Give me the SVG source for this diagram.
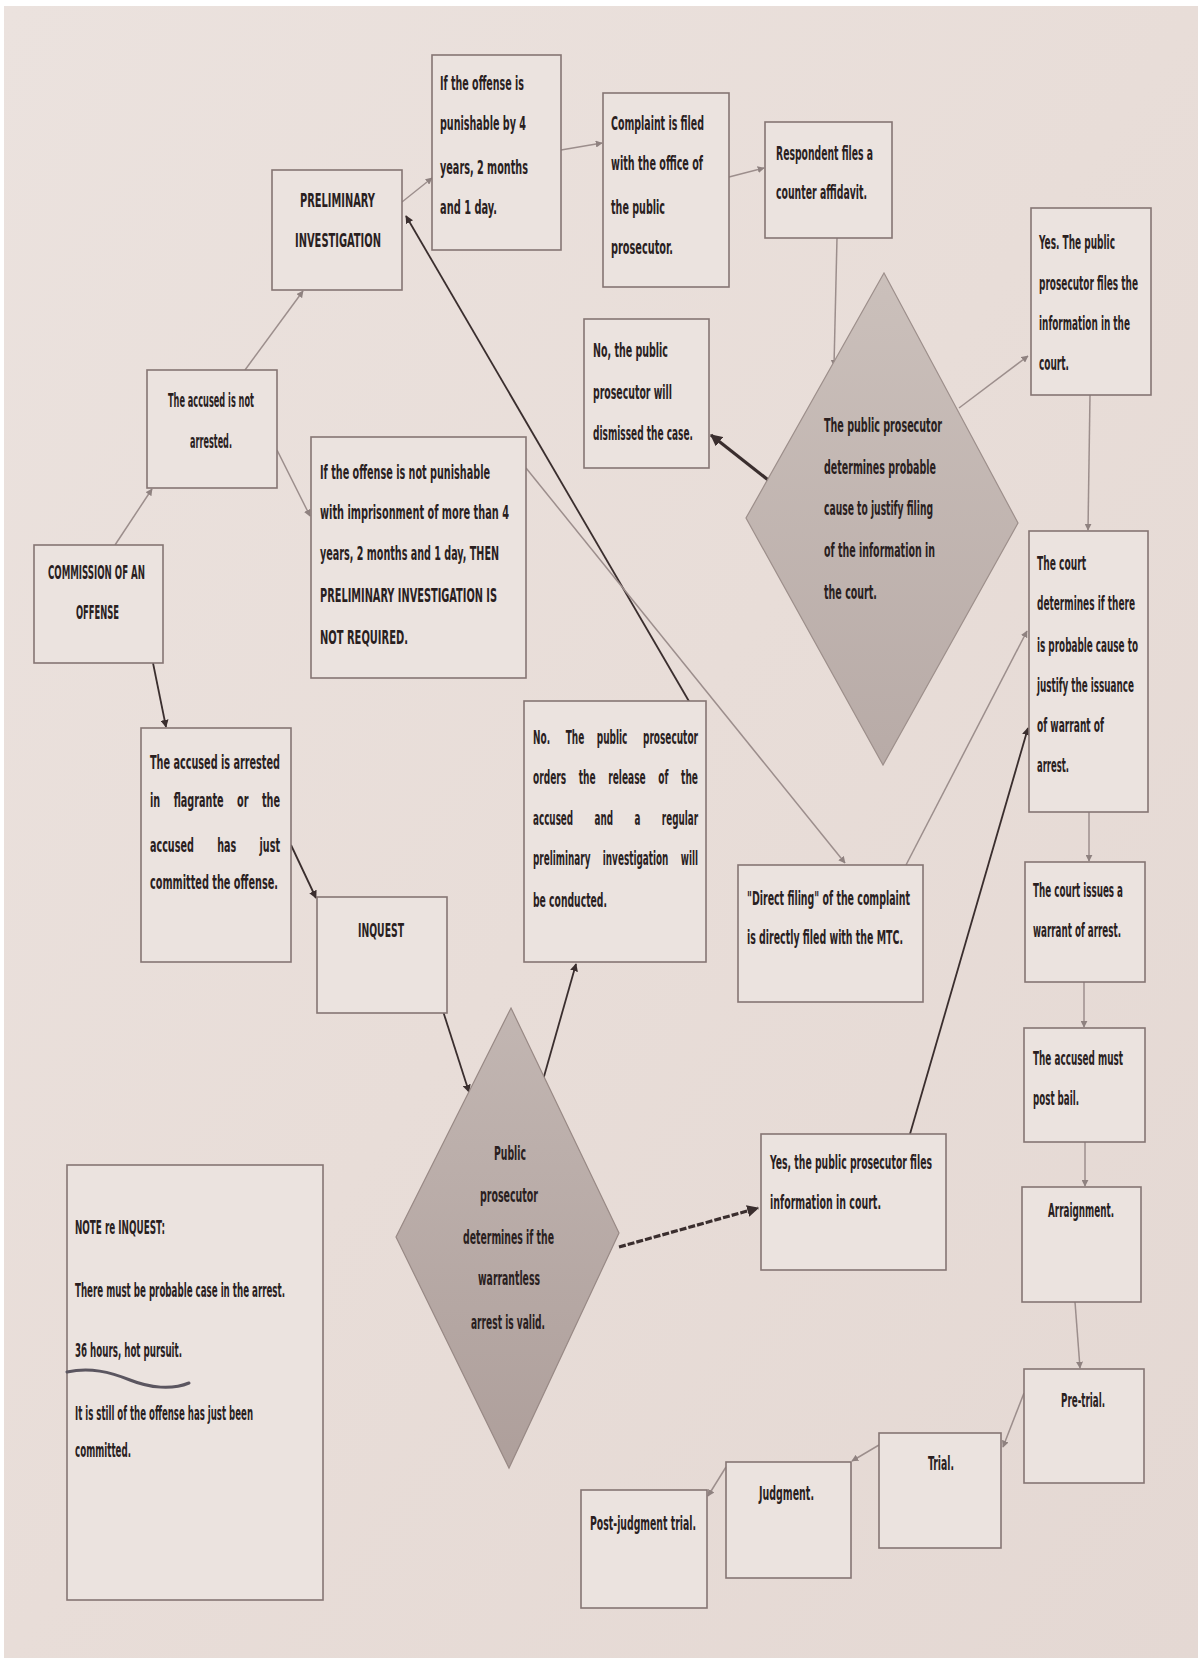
<svg xmlns="http://www.w3.org/2000/svg" width="1198" height="1661" viewBox="0 0 1198 1661">
<defs>
<linearGradient id="paper" x1="0" y1="0" x2="1" y2="1">
<stop offset="0" stop-color="#ebe2de"/>
<stop offset="0.5" stop-color="#e8ddd8"/>
<stop offset="1" stop-color="#e4d8d3"/>
</linearGradient>
<linearGradient id="dia1" x1="0" y1="0" x2="0" y2="1">
<stop offset="0" stop-color="#cbc0bb"/>
<stop offset="1" stop-color="#b8aba7"/>
</linearGradient>
<linearGradient id="dia2" x1="0" y1="0" x2="0" y2="1">
<stop offset="0" stop-color="#c2b6b2"/>
<stop offset="1" stop-color="#ae9f9b"/>
</linearGradient>
<marker id="ag" viewBox="0 0 10 10" refX="9" refY="5" markerWidth="7" markerHeight="7" markerUnits="userSpaceOnUse" orient="auto">
<path d="M0,0 L10,5 L0,10 z" fill="#8f8280"/>
</marker>
<marker id="ad" viewBox="0 0 10 10" refX="9" refY="5" markerWidth="8" markerHeight="8" markerUnits="userSpaceOnUse" orient="auto">
<path d="M0,0 L10,5 L0,10 z" fill="#3a2e2e"/>
</marker>
<marker id="adb" viewBox="0 0 10 10" refX="9" refY="5" markerWidth="12" markerHeight="12" markerUnits="userSpaceOnUse" orient="auto">
<path d="M0,0 L10,5 L0,10 z" fill="#3a2e2e"/>
</marker>
</defs>
<style>
.box{fill:#ebe3df;stroke:#857573;stroke-width:1.6}
.t{font-family:"Liberation Sans Narrow","DejaVu Sans Condensed","Liberation Sans",Arial,sans-serif;font-size:20px;font-weight:bold;fill:#2a1f1f}
.pre{white-space:pre}
.cg{fill:none;stroke:#9c8e8c;stroke-width:1.5;marker-end:url(#ag)}
.cd{fill:none;stroke:#3a2e2e;stroke-width:1.8;marker-end:url(#ad)}
.dia1{fill:url(#dia1);stroke:#9d8f8b;stroke-width:1.2}
.dia2{fill:url(#dia2);stroke:#988985;stroke-width:1.2}
</style>
<rect x="0" y="0" width="1198" height="1661" fill="#ffffff"/>
<rect x="4" y="6" width="1194" height="1652" fill="url(#paper)"/>

<g id="connectors">
<line class="cg" x1="115" y1="545" x2="152" y2="489"/>
<line class="cg" x1="245" y1="370" x2="303" y2="291"/>
<line class="cg" x1="402" y1="202" x2="432" y2="178"/>
<line class="cg" x1="561" y1="150" x2="602" y2="143"/>
<line class="cg" x1="729" y1="177" x2="764" y2="168"/>
<line class="cg" x1="837" y1="238" x2="834" y2="366"/>
<line class="cg" x1="959" y1="408" x2="1028" y2="356"/>
<line class="cd" x1="772" y1="483" x2="711" y2="435" style="stroke-width:3.2;marker-end:url(#adb)"/>
<line class="cg" x1="1090" y1="395" x2="1088" y2="530"/>
<line class="cg" x1="277" y1="450" x2="310" y2="516"/>
<line class="cd" x1="153" y1="663" x2="166" y2="727"/>
<line class="cd" x1="291" y1="845" x2="316" y2="898"/>
<line class="cd" x1="442" y1="1008" x2="469" y2="1092"/>
<line class="cd" x1="543" y1="1080" x2="576" y2="964"/>
<line class="cd" x1="690" y1="703" x2="406" y2="216"/>
<line class="cg" x1="526" y1="468" x2="845" y2="863"/>
<line class="cg" x1="906" y1="865" x2="1027" y2="631"/>
<line class="cd" x1="910" y1="1134" x2="1028" y2="728"/>
<line class="cd" x1="619" y1="1247" x2="758" y2="1208" style="stroke-width:3.2;stroke-dasharray:7 2;marker-end:url(#adb)"/>
<line class="cg" x1="1089" y1="812" x2="1089" y2="861"/>
<line class="cg" x1="1084" y1="982" x2="1084" y2="1027"/>
<line class="cg" x1="1085" y1="1142" x2="1085" y2="1186"/>
<line class="cg" x1="1075" y1="1302" x2="1080" y2="1368"/>
<line class="cg" x1="1024" y1="1393" x2="1003" y2="1447"/>
<line class="cg" x1="879" y1="1445" x2="852" y2="1461"/>
<line class="cg" x1="726" y1="1467" x2="708" y2="1496"/>
</g>

<g id="prelim">
<rect class="box" x="272" y="170" width="130" height="120"/>
<text class="t" transform="translate(300 207) scale(.625 1)" textLength="120" lengthAdjust="spacingAndGlyphs">PRELIMINARY</text>
<text class="t" transform="translate(295 247) scale(.625 1)" textLength="137.6" lengthAdjust="spacingAndGlyphs">INVESTIGATION</text>
</g>

<g id="ifpun">
<rect class="box" x="432" y="55" width="129" height="195"/>
<text class="t" transform="translate(440 90) scale(.625 1)" textLength="134.4" lengthAdjust="spacingAndGlyphs">If the offense is</text>
<text class="t" transform="translate(440 130) scale(.625 1)" textLength="137.6" lengthAdjust="spacingAndGlyphs">punishable by 4</text>
<text class="t" transform="translate(440 174) scale(.625 1)" textLength="140.8" lengthAdjust="spacingAndGlyphs">years, 2 months</text>
<text class="t" transform="translate(440 214) scale(.625 1)" textLength="91.2" lengthAdjust="spacingAndGlyphs">and 1 day.</text>
</g>

<g id="complaint">
<rect class="box" x="603" y="93" width="126" height="194"/>
<text class="t" transform="translate(611 130) scale(.625 1)" textLength="148.8" lengthAdjust="spacingAndGlyphs">Complaint is filed</text>
<text class="t" transform="translate(611 170) scale(.625 1)" textLength="147.2" lengthAdjust="spacingAndGlyphs">with the office of</text>
<text class="t" transform="translate(611 214) scale(.625 1)" textLength="86.4" lengthAdjust="spacingAndGlyphs">the public</text>
<text class="t" transform="translate(611 254) scale(.625 1)" textLength="99.2" lengthAdjust="spacingAndGlyphs">prosecutor.</text>
</g>

<g id="respondent">
<rect class="box" x="765" y="122" width="127" height="116"/>
<text class="t" transform="translate(776 160) scale(.625 1)" textLength="155.2" lengthAdjust="spacingAndGlyphs">Respondent files a</text>
<text class="t" transform="translate(776 199) scale(.625 1)" textLength="145.6" lengthAdjust="spacingAndGlyphs">counter affidavit.</text>
</g>

<g id="yes-info">
<rect class="box" x="1031" y="208" width="120" height="187"/>
<text class="t" transform="translate(1039 249) scale(.625 1)" textLength="121.6" lengthAdjust="spacingAndGlyphs">Yes. The public</text>
<text class="t" transform="translate(1039 290) scale(.625 1)" textLength="158.4" lengthAdjust="spacingAndGlyphs">prosecutor files the</text>
<text class="t" transform="translate(1039 330) scale(.625 1)" textLength="145.6" lengthAdjust="spacingAndGlyphs">information in the</text>
<text class="t" transform="translate(1039 370) scale(.625 1)" textLength="48" lengthAdjust="spacingAndGlyphs">court.</text>
</g>

<g id="no-dismiss">
<rect class="box" x="584" y="319" width="125" height="149"/>
<text class="t" transform="translate(593 357) scale(.625 1)" textLength="120" lengthAdjust="spacingAndGlyphs">No, the public</text>
<text class="t" transform="translate(593 399) scale(.625 1)" textLength="126.4" lengthAdjust="spacingAndGlyphs">prosecutor will</text>
<text class="t" transform="translate(593 440) scale(.625 1)" textLength="160" lengthAdjust="spacingAndGlyphs">dismissed the case.</text>
</g>

<g id="decision-probable-cause">
<polygon class="dia1" points="884,273 1018,523 883,765 746,518"/>
<text class="t" transform="translate(824 432) scale(.625 1)" textLength="188.8" lengthAdjust="spacingAndGlyphs">The public prosecutor</text>
<text class="t" transform="translate(824 474) scale(.625 1)" textLength="179.2" lengthAdjust="spacingAndGlyphs">determines probable</text>
<text class="t" transform="translate(824 515) scale(.625 1)" textLength="174.4" lengthAdjust="spacingAndGlyphs">cause to justify filing</text>
<text class="t" transform="translate(824 557) scale(.625 1)" textLength="177.6" lengthAdjust="spacingAndGlyphs">of the information in</text>
<text class="t" transform="translate(824 599) scale(.625 1)" textLength="84.8" lengthAdjust="spacingAndGlyphs">the court.</text>
</g>

<g id="court-determines">
<rect class="box" x="1029" y="531" width="119" height="281"/>
<text class="t" transform="translate(1037 570) scale(.625 1)" textLength="78.4" lengthAdjust="spacingAndGlyphs">The court</text>
<text class="t" transform="translate(1037 610) scale(.625 1)" textLength="156.8" lengthAdjust="spacingAndGlyphs">determines if there</text>
<text class="t" transform="translate(1037 652) scale(.625 1)" textLength="161.6" lengthAdjust="spacingAndGlyphs">is probable cause to</text>
<text class="t" transform="translate(1037 692) scale(.625 1)" textLength="155.2" lengthAdjust="spacingAndGlyphs">justify the issuance</text>
<text class="t" transform="translate(1037 732) scale(.625 1)" textLength="107.2" lengthAdjust="spacingAndGlyphs">of warrant of</text>
<text class="t" transform="translate(1037 772) scale(.625 1)" textLength="51.2" lengthAdjust="spacingAndGlyphs">arrest.</text>
</g>

<g id="not-arrested">
<rect class="box" x="147" y="370" width="130" height="118"/>
<text class="t" transform="translate(168 407) scale(.625 1)" textLength="137.6" lengthAdjust="spacingAndGlyphs">The accused is not</text>
<text class="t" transform="translate(190 448) scale(.625 1)" textLength="67.2" lengthAdjust="spacingAndGlyphs">arrested.</text>
</g>

<g id="if-not-punishable">
<rect class="box" x="311" y="437" width="215" height="241"/>
<text class="t" transform="translate(320 479) scale(.625 1)" textLength="272" lengthAdjust="spacingAndGlyphs">If the offense is not punishable</text>
<text class="t" transform="translate(320 519) scale(.625 1)" textLength="302.4" lengthAdjust="spacingAndGlyphs">with imprisonment of more than 4</text>
<text class="t" transform="translate(320 560) scale(.625 1)" textLength="286.4" lengthAdjust="spacingAndGlyphs">years, 2 months and 1 day, THEN</text>
<text class="t" transform="translate(320 602) scale(.625 1)" textLength="283.2" lengthAdjust="spacingAndGlyphs">PRELIMINARY INVESTIGATION IS</text>
<text class="t" transform="translate(320 644) scale(.625 1)" textLength="140.8" lengthAdjust="spacingAndGlyphs">NOT REQUIRED.</text>
</g>

<g id="commission">
<rect class="box" x="34" y="545" width="129" height="118"/>
<text class="t" transform="translate(48 579) scale(.625 1)" textLength="155.2" lengthAdjust="spacingAndGlyphs">COMMISSION OF AN</text>
<text class="t" transform="translate(76 619) scale(.625 1)" textLength="68.8" lengthAdjust="spacingAndGlyphs">OFFENSE</text>
</g>

<g id="arrested">
<rect class="box" x="141" y="728" width="150" height="234"/>
<text class="t" transform="translate(150 769) scale(.625 1)" textLength="208" lengthAdjust="spacingAndGlyphs">The accused is arrested</text>
<text class="t pre" xml:space="preserve" transform="translate(150 807) scale(.625 1)" textLength="208" lengthAdjust="spacingAndGlyphs">in    flagrante    or    the</text>
<text class="t pre" xml:space="preserve" transform="translate(150 852) scale(.625 1)" textLength="208" lengthAdjust="spacingAndGlyphs">accused       has       just</text>
<text class="t" transform="translate(150 889) scale(.625 1)" textLength="204.8" lengthAdjust="spacingAndGlyphs">committed the offense.</text>
</g>

<g id="no-release">
<rect class="box" x="524" y="701" width="182" height="261"/>
<text class="t pre" xml:space="preserve" transform="translate(533 744) scale(.625 1)" textLength="264" lengthAdjust="spacingAndGlyphs">No.     The    public     prosecutor</text>
<text class="t pre" xml:space="preserve" transform="translate(533 784) scale(.625 1)" textLength="264" lengthAdjust="spacingAndGlyphs">orders    the    release    of    the</text>
<text class="t pre" xml:space="preserve" transform="translate(533 825) scale(.625 1)" textLength="264" lengthAdjust="spacingAndGlyphs">accused       and       a       regular</text>
<text class="t pre" xml:space="preserve" transform="translate(533 865) scale(.625 1)" textLength="264" lengthAdjust="spacingAndGlyphs">preliminary    investigation    will</text>
<text class="t" transform="translate(533 907) scale(.625 1)" textLength="118.4" lengthAdjust="spacingAndGlyphs">be conducted.</text>
</g>

<g id="inquest">
<rect class="box" x="317" y="897" width="130" height="116"/>
<text class="t" transform="translate(358 937) scale(.625 1)" textLength="73.6" lengthAdjust="spacingAndGlyphs">INQUEST</text>
</g>

<g id="direct-filing">
<rect class="box" x="738" y="865" width="185" height="137"/>
<text class="t" transform="translate(747 905) scale(.625 1)" textLength="260.8" lengthAdjust="spacingAndGlyphs">"Direct filing" of the complaint</text>
<text class="t" transform="translate(747 944) scale(.625 1)" textLength="249.6" lengthAdjust="spacingAndGlyphs">is directly filed with the MTC.</text>
</g>

<g id="court-issues">
<rect class="box" x="1025" y="862" width="120" height="120"/>
<text class="t" transform="translate(1033 897) scale(.625 1)" textLength="144" lengthAdjust="spacingAndGlyphs">The court issues a</text>
<text class="t" transform="translate(1033 937) scale(.625 1)" textLength="140.8" lengthAdjust="spacingAndGlyphs">warrant of arrest.</text>
</g>

<g id="post-bail">
<rect class="box" x="1024" y="1028" width="121" height="114"/>
<text class="t" transform="translate(1033 1065) scale(.625 1)" textLength="144" lengthAdjust="spacingAndGlyphs">The accused must</text>
<text class="t" transform="translate(1033 1105) scale(.625 1)" textLength="73.6" lengthAdjust="spacingAndGlyphs">post bail.</text>
</g>

<g id="arraignment">
<rect class="box" x="1022" y="1187" width="119" height="115"/>
<text class="t" transform="translate(1048 1217) scale(.625 1)" textLength="105.6" lengthAdjust="spacingAndGlyphs">Arraignment.</text>
</g>

<g id="decision-warrantless">
<polygon class="dia2" points="511,1008 619,1233 509,1468 396,1237"/>
<text class="t" transform="translate(494 1160) scale(.625 1)" textLength="51.2" lengthAdjust="spacingAndGlyphs">Public</text>
<text class="t" transform="translate(480 1202) scale(.625 1)" textLength="92.8" lengthAdjust="spacingAndGlyphs">prosecutor</text>
<text class="t" transform="translate(463 1244) scale(.625 1)" textLength="145.6" lengthAdjust="spacingAndGlyphs">determines if the</text>
<text class="t" transform="translate(478 1285) scale(.625 1)" textLength="99.2" lengthAdjust="spacingAndGlyphs">warrantless</text>
<text class="t" transform="translate(471 1329) scale(.625 1)" textLength="118.4" lengthAdjust="spacingAndGlyphs">arrest is valid.</text>
</g>

<g id="yes-files">
<rect class="box" x="761" y="1134" width="185" height="136"/>
<text class="t" transform="translate(770 1169) scale(.625 1)" textLength="259.2" lengthAdjust="spacingAndGlyphs">Yes, the public prosecutor files</text>
<text class="t" transform="translate(770 1209) scale(.625 1)" textLength="177.6" lengthAdjust="spacingAndGlyphs">information in court.</text>
</g>

<g id="note">
<rect class="box" x="67" y="1165" width="256" height="435"/>
<text class="t" transform="translate(75 1234) scale(.625 1)" textLength="144" lengthAdjust="spacingAndGlyphs">NOTE re INQUEST:</text>
<text class="t" transform="translate(75 1297) scale(.625 1)" textLength="336" lengthAdjust="spacingAndGlyphs">There must be probable case in the arrest.</text>
<text class="t" transform="translate(75 1357) scale(.625 1)" textLength="171.2" lengthAdjust="spacingAndGlyphs">36 hours, hot pursuit.</text>
<path d="M67,1372 C90,1367 110,1372 130,1380 S172,1390 189,1383" fill="none" stroke="#5b5660" stroke-width="3" stroke-linecap="round"/>
<text class="t" transform="translate(75 1420) scale(.625 1)" textLength="284.8" lengthAdjust="spacingAndGlyphs">It is still of the offense has just been</text>
<text class="t" transform="translate(75 1457) scale(.625 1)" textLength="89.6" lengthAdjust="spacingAndGlyphs">committed.</text>
</g>

<g id="pre-trial">
<rect class="box" x="1024" y="1369" width="120" height="114"/>
<text class="t" transform="translate(1061 1407) scale(.625 1)" textLength="70.4" lengthAdjust="spacingAndGlyphs">Pre-trial.</text>
</g>

<g id="trial">
<rect class="box" x="879" y="1433" width="122" height="115"/>
<text class="t" transform="translate(928 1470) scale(.625 1)" textLength="41.6" lengthAdjust="spacingAndGlyphs">Trial.</text>
</g>

<g id="judgment">
<rect class="box" x="726" y="1462" width="125" height="116"/>
<text class="t" transform="translate(759 1500) scale(.625 1)" textLength="88" lengthAdjust="spacingAndGlyphs">Judgment.</text>
</g>

<g id="post-judgment">
<rect class="box" x="581" y="1490" width="126" height="118"/>
<text class="t" transform="translate(590 1530) scale(.625 1)" textLength="169.6" lengthAdjust="spacingAndGlyphs">Post-judgment trial.</text>
</g>
</svg>
